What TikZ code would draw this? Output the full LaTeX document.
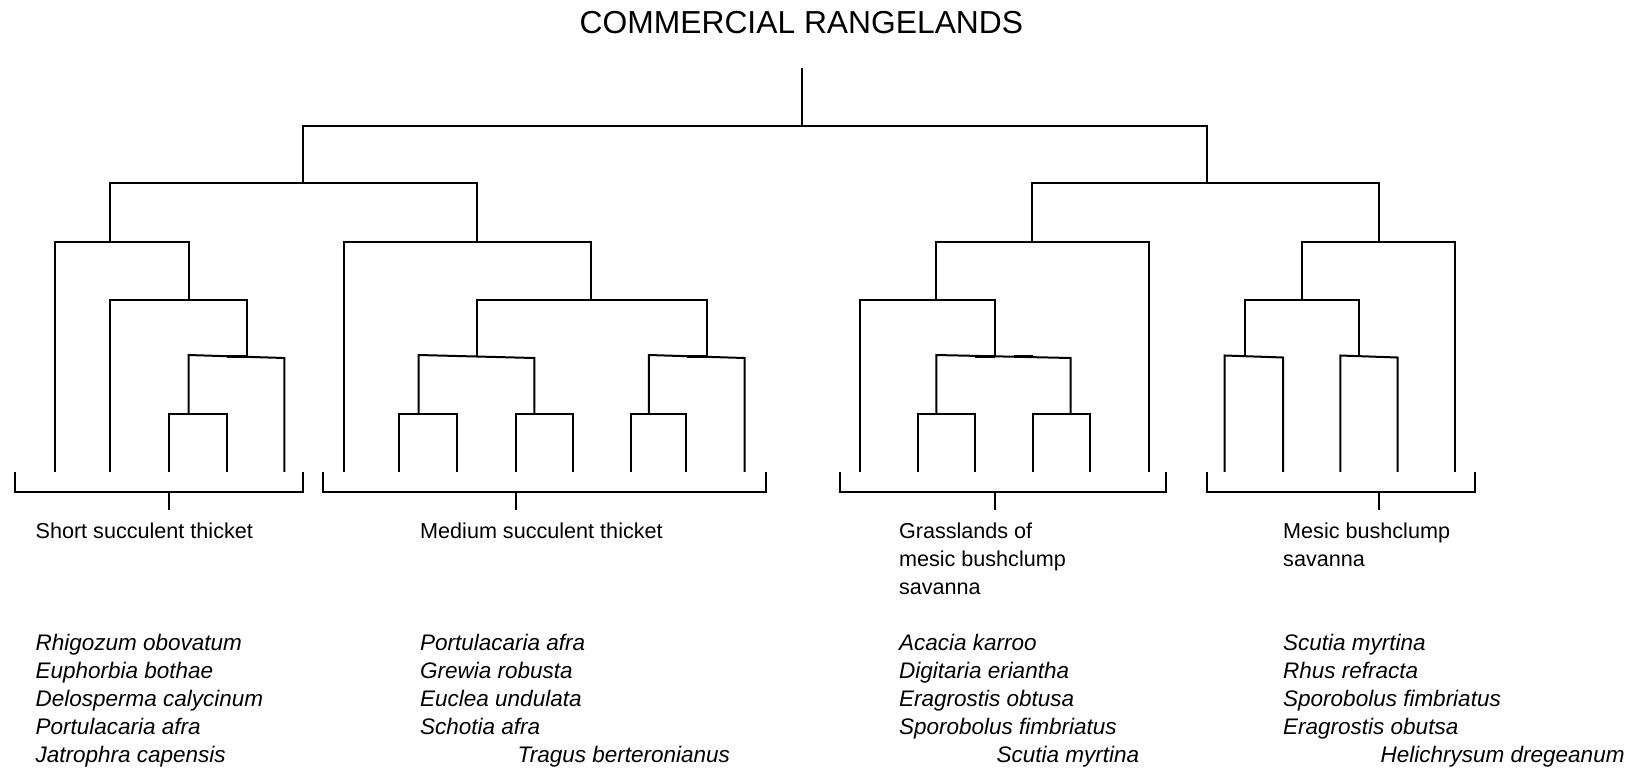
\documentclass[tikz,border=0pt]{standalone}
\usepackage{fontspec}
\setmainfont{Liberation Sans}
\usetikzlibrary{positioning,calc}

\begin{document}
\begin{tikzpicture}[x=1pt,y=-1pt,
    link/.style={line width=2pt},
    nick/.style={line width=3.2pt},
    bracket/.style={line width=2pt},
    grouplabel/.style={anchor=base west,inner sep=0pt,font=\fontsize{21.6}{28}\selectfont},
    species/.style={anchor=base west,inner sep=0pt,font=\fontsize{22.5}{28}\selectfont\itshape}]
    \useasboundingbox (0,0) rectangle (1633,769);

    % Title
    \node[anchor=base,inner sep=0pt,font=\fontsize{31.8}{36}\selectfont] (title) at (801.4,33.3) {COMMERCIAL RANGELANDS};

    % Top of the tree
    \draw[link] (801.9,67.7) -- (801.9,126);
    \draw[link] (303.1,183.3) |- (1207,126) -- (1207,183.3);
    \draw[link] (110.4,241.6) |- (477,183.3) -- (477,241.6);
    \draw[link] (1032.1,241.6) |- (1378.9,183.3) -- (1378.9,241.6);

    % Short succulent thicket
    \draw[link] (55.2,471.8) |- (188.5,241.6) -- (188.5,299.9);
    \draw[link] (110.4,471.8) |- (246.8,299.9) -- (246.8,356.2);
    \draw[link] (188.5,413.5) -- (188.5,355) -- (284.3,358) -- (284.3,471.8);
    \draw[nick] (227,356.2) -- (246.8,356.2);
    \draw[link] (168.7,471.8) |- (227,413.5) -- (227,471.8);

    % Medium succulent thicket
    \draw[link] (343.7,471.8) |- (590.5,241.6) -- (590.5,299.9);
    \draw[link] (477,356.2) |- (707.1,299.9) -- (707.1,356.2);
    \draw[link] (418.7,413.5) -- (418.7,355) -- (534.3,358) -- (534.3,413.5);
    \draw[link] (398.9,471.8) |- (457.2,413.5) -- (457.2,471.8);
    \draw[link] (515.5,471.8) |- (572.8,413.5) -- (572.8,471.8);
    \draw[link] (648.8,413.5) -- (648.8,355) -- (744.6,358) -- (744.6,471.8);
    \draw[nick] (687,356.2) -- (707.1,356.2);
    \draw[link] (631.1,471.8) |- (686.3,413.5) -- (686.3,471.8);

    % Grasslands of mesic bushclump savanna
    \draw[link] (936.3,299.9) |- (1148.7,241.6) -- (1148.7,471.8);
    \draw[link] (860.2,471.8) |- (994.6,299.9) -- (994.6,356.2);
    \draw[link] (936.3,413.5) -- (936.3,355) -- (1070.6,358) -- (1070.6,413.5);
    \draw[nick] (974.5,356.2) -- (994.6,356.2);
    \draw[nick] (1014.4,356.6) -- (1032.6,356.6);
    \draw[link] (917.5,471.8) |- (974.8,413.5) -- (974.8,471.8);
    \draw[link] (1033.1,471.8) |- (1090.4,413.5) -- (1090.4,471.8);

    % Mesic bushclump savanna
    \draw[link] (1301.8,299.9) |- (1454.9,241.6) -- (1454.9,471.8);
    \draw[link] (1244.5,356.2) |- (1359.1,299.9) -- (1359.1,356.2);
    \draw[link] (1224.7,471.8) -- (1224.7,355.5) -- (1283.1,357.5) -- (1283.1,471.8);
    \draw[link] (1340.3,471.8) -- (1340.3,355.5) -- (1397.6,357.5) -- (1397.6,471.8);

    % Brackets under the leaves
    \draw[bracket] (14.6,471.8) |- (303.1,491.6) -- (303.1,471.8);
    \draw[bracket] (168.7,491.6) -- (168.7,510.3);
    \draw[bracket] (322.9,471.8) |- (765.5,491.6) -- (765.5,471.8);
    \draw[bracket] (515.5,491.6) -- (515.5,510.3);
    \draw[bracket] (840.4,471.8) |- (1166.4,491.6) -- (1166.4,471.8);
    \draw[bracket] (994.6,491.6) -- (994.6,510.3);
    \draw[bracket] (1207,471.8) |- (1474.7,491.6) -- (1474.7,471.8);
    \draw[bracket] (1378.9,491.6) -- (1378.9,510.3);

    % Group names
    \node[grouplabel] (short) at (35.4,538.3) {Short succulent thicket};
    \node[grouplabel] (medium) at (420,538.3) {Medium succulent thicket};
    \foreach \t [count=\i] in {Grasslands of, mesic bushclump, savanna}
        \node[grouplabel] (grass\i) at (898.8,538.3+28*\i-28) {\t};
    \foreach \t [count=\i] in {Mesic bushclump, savanna}
        \node[grouplabel] (mesic\i) at (1283,538.3+28*\i-28) {\t};

    % Species lists
    \foreach \t [count=\i] in {Rhigozum obovatum, Euphorbia bothae, Delosperma calycinum, Portulacaria afra, Jatrophra capensis}
        \node[species] (sst\i) at (35.4,650+28*\i-28) {\t};
    \foreach \t [count=\i] in {Portulacaria afra, Grewia robusta, Euclea undulata, Schotia afra, \hspace*{97.5pt}Tragus berteronianus}
        \node[species] (mst\i) at (420,650+28*\i-28) {\t};
    \foreach \t [count=\i] in {Acacia karroo, Digitaria eriantha, Eragrostis obtusa, Sporobolus fimbriatus, \hspace*{97.5pt}Scutia myrtina}
        \node[species] (gms\i) at (898.8,650+28*\i-28) {\t};
    \foreach \t [count=\i] in {Scutia myrtina, Rhus refracta, Sporobolus fimbriatus, Eragrostis obutsa, \hspace*{97.5pt}Helichrysum dregeanum}
        \node[species] (mbs\i) at (1283,650+28*\i-28) {\t};
\end{tikzpicture}
\end{document}
